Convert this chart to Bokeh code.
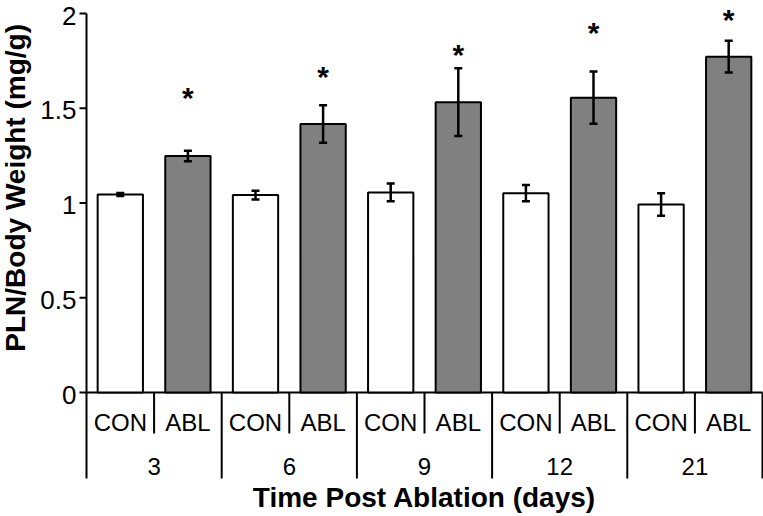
import math
from bokeh.plotting import figure
from bokeh.models import ColumnDataSource, Range1d, Whisker, TeeHead
from bokeh.core.properties import value
from bokeh.embed import file_html
from bokeh.resources import INLINE

# ---------------- data ----------------
groups = ["3", "6", "9", "12", "21"]
conditions = ["CON", "ABL"]
con_mean = [1.045, 1.042, 1.056, 1.052, 0.992]
con_err = [0.008, 0.023, 0.047, 0.043, 0.059]
abl_mean = [1.248, 1.417, 1.532, 1.556, 1.772]
abl_err = [0.028, 0.099, 0.179, 0.138, 0.084]
sig_marker = ["*", "*", "*", "*", "*"]
sig_height = [1.579, 1.69, 1.805, 1.919, 1.99]
y_ticks = [0, 0.5, 1, 1.5, 2]
y_tick_labels = ["0", "0.5", "1", "1.5", "2"]
x_title = "Time Post Ablation (days)"
y_title = "PLN/Body Weight (mg/g)"
cond_colors = {"CON": "#ffffff", "ABL": "#808080"}

FONT = value("Liberation Sans")

# ---------------- layout constants (pixels) ----------------
W, H = 763, 516
LEFT = 86            # plot area left edge
PX_X = 67.6          # pixels per bar slot
Y0_PX, Y2_PX = 392, 13
PX_Y = (Y0_PX - Y2_PX) / 2.0

n_cond = len(conditions)
n_slots = len(groups) * n_cond
x_start = -LEFT / PX_X
x_end = (W - LEFT) / PX_X
y_top = 2 + Y2_PX / PX_Y
y_bot = -(H - Y0_PX) / PX_Y

def ypx(px_below_zero):
    return -px_below_zero / PX_Y

GRP_SEP_Y = ypx(86)
SUB_SEP_Y = ypx(41)
COND_LABEL_Y = ypx(29.5)
GROUP_LABEL_Y = ypx(73.5)
X_TITLE_Y = ypx(104.5)
TICK_LEN = 7 / PX_X

# ---------------- build tables ----------------
bar_x, bar_top, bar_lo, bar_hi, bar_fill, bar_label = [], [], [], [], [], []
for gi, g in enumerate(groups):
    for ci, c in enumerate(conditions):
        m = con_mean[gi] if c == "CON" else abl_mean[gi]
        e = con_err[gi] if c == "CON" else abl_err[gi]
        bar_x.append(gi * n_cond + ci + 0.5)
        bar_top.append(m)
        bar_lo.append(m - e)
        bar_hi.append(m + e)
        bar_fill.append(cond_colors[c])
        bar_label.append(c)

bars = ColumnDataSource(dict(x=bar_x, top=bar_top, lower=bar_lo, upper=bar_hi,
                             fill=bar_fill, label=bar_label))
sig = ColumnDataSource(dict(x=[gi * n_cond + conditions.index("ABL") + 0.5 for gi in range(len(groups))],
                            y=sig_height, text=sig_marker))
grp = ColumnDataSource(dict(x=[gi * n_cond + n_cond / 2 for gi in range(len(groups))], text=groups))
yt = ColumnDataSource(dict(y=y_ticks, text=y_tick_labels))

p = figure(frame_width=W, frame_height=H,
           x_range=Range1d(x_start, x_end), y_range=Range1d(y_bot, y_top),
           x_axis_location=None, y_axis_location=None,
           output_backend="svg", toolbar_location=None,
           min_border_left=0, min_border_right=0, min_border_top=0, min_border_bottom=0)
p.grid.visible = False
p.outline_line_color = None
p.background_fill_color = "white"
p.border_fill_color = "white"

# ---------------- value axis ----------------
p.segment(x0=[0], y0=[y_ticks[0]], x1=[0], y1=[y_ticks[-1]], line_color="black", line_width=2)
p.segment(x0=[-TICK_LEN] * len(y_ticks), y0=y_ticks, x1=[0] * len(y_ticks), y1=y_ticks,
          line_color="black", line_width=2)
p.text(x=0, y="y", text="text", source=yt, x_offset=-10, y_offset=2,
       text_font=FONT, text_font_size="26px", text_align="right", text_baseline="middle",
       text_color="black")
p.text(x=[x_start], y=[1.08], text=[y_title], x_offset=15, angle=math.pi / 2,
       text_font=FONT, text_font_size="28px", text_font_style="bold",
       text_align="center", text_baseline="middle", text_color="black")

# baseline
p.segment(x0=[0], y0=[0], x1=[n_slots], y1=[0], line_color="black", line_width=2)

# bars
p.vbar(x="x", top="top", bottom=0, width=0.67, source=bars,
       fill_color="fill", line_color="black", line_width=2)

# error bars
w = Whisker(base="x", upper="upper", lower="lower", source=bars,
            line_color="black", line_width=2.5, level="annotation",
            upper_head=TeeHead(size=8, line_width=2.5, line_color="black"),
            lower_head=TeeHead(size=8, line_width=2.5, line_color="black"))
p.add_layout(w)

# significance markers
p.text(x="x", y="y", text="text", source=sig, text_font=FONT, text_font_size="30px",
       text_font_style="bold", text_align="center", text_baseline="middle",
       text_color="black", y_offset=4)

# ---------------- category table below the plot ----------------
grp_edges = [gi * n_cond for gi in range(len(groups) + 1)]
sub_edges = [gi * n_cond + ci for gi in range(len(groups)) for ci in range(1, n_cond)]
p.segment(x0=grp_edges, y0=[0] * len(grp_edges), x1=grp_edges, y1=[GRP_SEP_Y] * len(grp_edges),
          line_color="black", line_width=2)
p.segment(x0=sub_edges, y0=[0] * len(sub_edges), x1=sub_edges, y1=[SUB_SEP_Y] * len(sub_edges),
          line_color="black", line_width=2)
p.text(x="x", y=COND_LABEL_Y, text="label", source=bars, text_font=FONT, text_font_size="24px",
       text_align="center", text_baseline="middle", text_color="black")
p.text(x="x", y=GROUP_LABEL_Y, text="text", source=grp, text_font=FONT, text_font_size="24px",
       text_align="center", text_baseline="middle", text_color="black")
p.text(x=[n_slots / 2], y=[X_TITLE_Y], text=[x_title],
       text_font=FONT, text_font_size="28px", text_font_style="bold",
       text_align="center", text_baseline="middle", text_color="black")

open("out.html", "w").write(file_html(p, INLINE))
